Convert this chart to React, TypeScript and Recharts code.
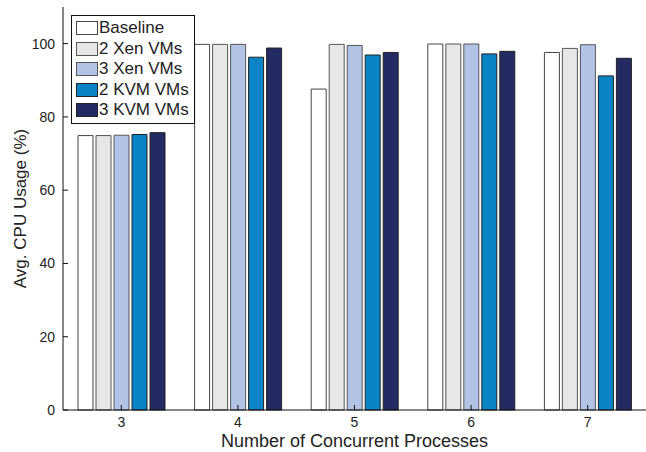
import { BarChart, Bar, XAxis, YAxis } from "recharts";

const processes = ["3", "4", "5", "6", "7"];
const baseline = [74.9, 99.8, 87.6, 99.9, 97.6];
const xen2 = [74.9, 99.8, 99.8, 99.9, 98.7];
const xen3 = [75.0, 99.8, 99.5, 99.9, 99.7];
const kvm2 = [75.2, 96.3, 96.9, 97.2, 91.2];
const kvm3 = [75.7, 98.8, 97.6, 97.9, 96.0];
const yTicks = [0, 20, 40, 60, 80, 100];

const series = [
  { key: "baseline", name: "Baseline", fill: "#ffffff", stroke: "#444" },
  { key: "xen2", name: "2 Xen VMs", fill: "#e6e7e8", stroke: "#555" },
  { key: "xen3", name: "3 Xen VMs", fill: "#b3c3e5", stroke: "#555" },
  { key: "kvm2", name: "2 KVM VMs", fill: "#0a84c6", stroke: "#222" },
  { key: "kvm3", name: "3 KVM VMs", fill: "#232b62", stroke: "#222" },
];

const data = processes.map((p, i) => ({
  p,
  baseline: baseline[i],
  xen2: xen2[i],
  xen3: xen3[i],
  kvm2: kvm2[i],
  kvm3: kvm3[i],
}));

const font = "'Liberation Sans', Arial, sans-serif";

// no labels on the top / right frame, only the inward tick marks
const NoLabel = () => <g />;

// legend sits inside the plot, top left, like the matlab one
function LegendBox() {
  return (
    <div
      style={{
        position: "absolute",
        left: 71,
        top: 15,
        border: "1px solid #111",
        background: "#fff",
        padding: "2px 5px 2px 4px",
        fontFamily: font,
        fontSize: 17,
        color: "#222",
      }}
    >
      {series.map((s) => (
        <div key={s.key} style={{ display: "flex", alignItems: "center", height: 20.5 }}>
          <span
            style={{
              display: "inline-block",
              width: 20,
              height: 12,
              background: s.fill,
              border: "1px solid " + s.stroke,
              marginRight: 1,
            }}
          />
          <span>{s.name}</span>
        </div>
      ))}
    </div>
  );
}

export default function App() {
  return (
    <div style={{ position: "absolute", left: 0, top: 0, background: "#fff", width: 646, height: 452 }}>
      <BarChart
        width={646}
        height={452}
        data={data}
        margin={{ top: 7, right: 0, bottom: 0, left: 0 }}
        barCategoryGap={15}
        barGap={3}
      >
        <XAxis
          dataKey="p"
          height={42}
          tickSize={-5}
          tickMargin={12}
          tick={{ fill: "#222", fontSize: 14, fontFamily: font }}
          stroke="#111"
          label={{ value: "Number of Concurrent Processes", position: "insideBottom", offset: 5, fill: "#222", fontSize: 18, fontFamily: font }}
        />
        <XAxis xAxisId="top" dataKey="p" orientation="top" height={0} tick={NoLabel} tickSize={-5} stroke="#111" />
        <YAxis
          domain={[0, 110]}
          ticks={yTicks}
          width={63}
          tickSize={-5}
          tickMargin={13}
          tick={{ fill: "#222", fontSize: 14, fontFamily: font }}
          stroke="#111"
          label={{ value: "Avg. CPU Usage (%)", angle: -90, position: "insideLeft", offset: 20, fill: "#222", fontSize: 17, fontFamily: font, style: { textAnchor: "middle" } }}
        />
        <YAxis yAxisId="right" orientation="right" domain={[0, 110]} ticks={yTicks} width={0} tick={NoLabel} tickSize={-5} stroke="#111" />
        {series.map((s) => (
          <Bar
            key={s.key}
            dataKey={s.key}
            name={s.name}
            fill={s.fill}
            stroke={s.stroke}
            strokeWidth={1}
            isAnimationActive={false}
          />
        ))}
      </BarChart>
      <LegendBox />
    </div>
  );
}
